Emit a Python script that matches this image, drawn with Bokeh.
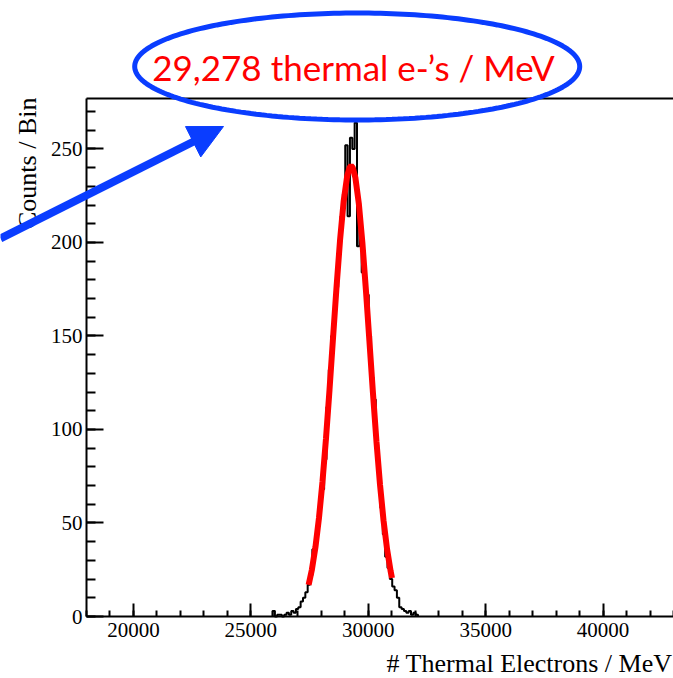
import numpy as np
from bokeh.plotting import figure
from bokeh.models import (Range1d, LinearAxis, SingleIntervalTicker, FixedTicker,
                          Arrow, NormalHead, Label, PolyAnnotation)
from bokeh.embed import file_html
from bokeh.resources import INLINE

# ---------------- data ----------------
bin_first_edge = 25920
bin_width = 100
counts = [3, 0, 1, 1, 0, 1, 2, 1, 3, 2,
          4, 5, 8, 10, 13, 17, 22, 36, 40, 48,
          62, 68, 84, 112, 132, 150, 158, 176, 200, 214,
          226, 252, 214, 256, 250, 264, 198, 214, 184, 176,
          172, 150, 128, 116, 92, 72, 58, 44, 32, 26,
          20, 16, 14, 10, 5, 4, 3, 2, 3, 1,
          2, 1]

fit_x = [27460, 27600, 27750, 27900, 28050, 28200, 28350, 28500, 28650, 28800,
         28950, 29100, 29200, 29270, 29340, 29450, 29600, 29750, 29900, 30050,
         30200, 30350, 30500, 30650, 30800, 30950, 31010]
fit_y = [16.9, 25.1, 37.0, 52.6, 72.0, 95.2, 121.3, 149.0, 176.4, 201.5,
         221.8, 235.4, 240.0, 241.0, 240.0, 234.8, 220.6, 199.9, 174.6, 147.1,
         119.5, 93.5, 70.6, 51.4, 36.1, 24.4, 20.6]

x_title = "# Thermal Electrons / MeV"
y_title = "Counts / Bin"
callout_text = "29,278 thermal e-\u2019s / MeV"

# axis extents of the histogram frame
X0, X1 = 18000, 43000
Y0, Y1 = 0, 277

# ---------------- layout ----------------
W, H = 673, 678
FL, FT, FR, FB = 86, 98, 673, 616   # histogram frame in canvas pixels

BLUE = "#0A3DFF"
RED = "#FF0000"
SERIF = "Liberation Serif"

kx = (FR - FL) / (X1 - X0)
ky = (FB - FT) / (Y1 - Y0)
xr = Range1d(X0 - FL / kx, X1 + (W - FR) / kx)
yr = Range1d(Y0 - (H - FB) / ky, Y1 + FT / ky)

p = figure(width=W, height=H, output_backend="svg", toolbar_location=None,
           x_range=xr, y_range=yr, x_axis_location=None, y_axis_location=None,
           min_border=0)
p.min_border_left = p.min_border_right = p.min_border_top = p.min_border_bottom = 0
p.outline_line_color = None
p.xgrid.visible = False
p.ygrid.visible = False
p.background_fill_color = "white"
p.border_fill_color = "white"

# histogram as ROOT-style step outline
n = len(counts)
edges = bin_first_edge + bin_width * np.arange(n + 1)
hx = [edges[0]] + list(edges[:n]) + [edges[n]]
hy = [0] + counts + [0]
p.step(hx, hy, mode="after", line_color="black", line_width=2)

# gaussian fit curve
p.line(fit_x, fit_y, line_color=RED, line_width=6)

# axes placed at the frame edges
xa = LinearAxis(fixed_location=Y0, bounds=(X0, X1),
                ticker=SingleIntervalTicker(interval=5000, num_minor_ticks=5))
ya = LinearAxis(fixed_location=X0, bounds=(Y0, Y1),
                ticker=SingleIntervalTicker(interval=50, num_minor_ticks=5))
for ax, maj, mnr in ((xa, 13, 6), (ya, 17, 9)):
    ax.major_tick_in = maj
    ax.major_tick_out = 0
    ax.minor_tick_in = mnr
    ax.minor_tick_out = 0
    ax.axis_line_width = 2
    ax.major_tick_line_width = 2
    ax.minor_tick_line_width = 2
    ax.axis_line_color = "black"
    ax.major_tick_line_color = "black"
    ax.minor_tick_line_color = "black"
    ax.major_label_text_font = SERIF
    ax.major_label_text_font_size = "21px"
    ax.major_label_text_color = "black"
xa.major_label_standoff = 6
ya.major_label_standoff = 4
p.add_layout(xa, "below")
p.add_layout(ya, "left")

top = LinearAxis(fixed_location=Y1, bounds=(X0, X1), ticker=FixedTicker(ticks=[]),
                 axis_line_width=2, axis_line_color="black")
p.add_layout(top, "above")

# axis titles (ROOT style: at the far end of each axis)
p.add_layout(Label(x=672, y=663, x_units="canvas", y_units="canvas",
                   text=x_title, text_align="right", text_baseline="alphabetic",
                   text_font=SERIF, text_font_size="26px", text_color="black"))
p.add_layout(Label(x=27, y=97, x_units="canvas", y_units="canvas",
                   text=y_title, angle=np.pi / 2, text_align="right",
                   text_baseline="alphabetic",
                   text_font=SERIF, text_font_size="26px", text_color="black"))

# ---------------- call-out (canvas pixels, top-left origin) ----------------
cx, cy, rx, ry = 356.7, 66.0, 222.5, 53.5
t = np.linspace(0, 2 * np.pi, 241)
ell = PolyAnnotation(xs=list(cx + rx * np.cos(t)), ys=list(cy + ry * np.sin(t)),
                     xs_units="canvas", ys_units="canvas",
                     line_color=BLUE, line_alpha=1.0, line_width=5,
                     fill_alpha=0, level="overlay")
p.add_layout(ell)

p.add_layout(Label(x=353, y=66, x_units="canvas", y_units="canvas",
                   text=callout_text, text_align="center",
                   text_baseline="alphabetic", text_font="Lato",
                   text_font_size="35px", text_color=RED, level="overlay"))

start = np.array([0.0, 238.0])
tip = np.array([223.0, 126.0])
u = (tip - start) / np.linalg.norm(tip - start)
head = 34
base = tip - u * head * 0.8
p.add_layout(Arrow(end=None, x_start=start[0], y_start=start[1],
                   x_end=base[0], y_end=base[1],
                   start_units="canvas", end_units="canvas",
                   line_color=BLUE, line_width=8, level="overlay"))
p.add_layout(Arrow(end=NormalHead(size=head, fill_color=BLUE, line_color=BLUE,
                                  line_width=1),
                   x_start=base[0], y_start=base[1],
                   x_end=tip[0], y_end=tip[1],
                   start_units="canvas", end_units="canvas",
                   line_alpha=0, level="overlay"))

open("out.html", "w").write(file_html(p, INLINE))
